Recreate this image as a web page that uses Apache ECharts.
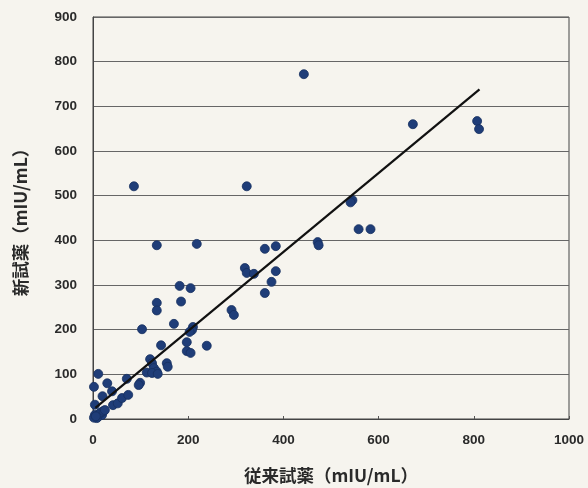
<!DOCTYPE html>
<html><head><meta charset="utf-8">
<script src="https://cdn.jsdelivr.net/npm/echarts@6/dist/echarts.min.js"></script>
<style>html,body{margin:0;padding:0;background:#f6f4ee;}#c{width:588px;height:488px;}</style>
</head><body><div id="c"></div>
<script>
const xTicks = [0, 200, 400, 600, 800, 1000];
const yTicks = [0, 100, 200, 300, 400, 500, 600, 700, 800, 900];
const xName = '従来試薬（mIU/mL）';
const yName = '新試薬（mIU/mL）';
const points = [
  [86,521],[323,521],[443,772],[672,660],[807,667],[811,649],[545,490],[541,485],
  [558,425],[583,425],[472,396],[474,389],[361,381],[384,387],[319,338],[323,327],
  [338,325],[384,331],[375,307],[361,282],[291,244],[296,233],[134,389],[218,392],
  [182,298],[205,293],[185,263],[134,260],[134,243],[103,201],[170,213],[210,206],
  [208,199],[203,195],[143,165],[197,172],[197,152],[205,148],[239,164],[120,134],
  [124,125],[128,114],[134,106],[113,104],[124,103],[136,101],[155,125],[157,117],
  [11,101],[2,72],[30,80],[71,90],[99,81],[96,76],[20,51],[40,62],[4,32],[42,31],
  [52,35],[61,47],[74,54],[4,9],[11,5],[19,9],[8,2],[2,3],[14,12],[17,15],[22,18],
  [6,6],[25,20]
];
const fitLine = [[5, 25], [812, 738]];

const chart = echarts.init(document.getElementById('c'));
chart.setOption({
  backgroundColor: '#f6f4ee',
  animation: false,
  grid: { left: 93, right: 19, top: 17, bottom: 69, containLabel: false, outerBoundsMode: 'none',
          show: true, borderColor: '#444', borderWidth: 1, backgroundColor: 'transparent' },
  xAxis: {
    type: 'value', min: xTicks[0], max: xTicks[xTicks.length-1], interval: 200,
    name: xName, nameLocation: 'middle', nameGap: 48,
    nameTextStyle: { fontFamily: 'Noto Sans CJK JP', fontSize: 17.5, fontWeight: 'bold', color: '#2a2a2a' },
    axisLine: { show: true, lineStyle: { color: '#444' } },
    axisTick: { show: true, inside: true, length: 3, lineStyle: { color: '#555' } },
    splitLine: { show: false },
    axisLabel: { color: '#2a2a2a', fontFamily: 'Liberation Sans', fontSize: 13.5, fontWeight: 'bold', margin: 14, formatter: v => String(v) }
  },
  yAxis: {
    type: 'value', min: yTicks[0], max: yTicks[yTicks.length-1], interval: 100,
    name: yName, nameLocation: 'middle', nameGap: 64,
    nameTextStyle: { fontFamily: 'Noto Sans CJK JP', fontSize: 17.5, fontWeight: 'bold', color: '#2a2a2a' },
    axisLine: { show: true, lineStyle: { color: '#444' } },
    axisTick: { show: false },
    splitLine: { show: true, lineStyle: { color: '#666', width: 1 } },
    axisLabel: { color: '#2a2a2a', fontFamily: 'Liberation Sans', fontSize: 13.5, fontWeight: 'bold', margin: 16, formatter: v => String(v) }
  },
  series: [
    { type: 'scatter', data: points, symbolSize: 9,
      itemStyle: { color: '#1f3d78', borderColor: '#16305f', borderWidth: 0.8, opacity: 1 } },
    { type: 'line', data: fitLine, symbol: 'none',
      lineStyle: { color: '#111', width: 2.2 }, z: 3 }
  ]
});
</script></body></html>
